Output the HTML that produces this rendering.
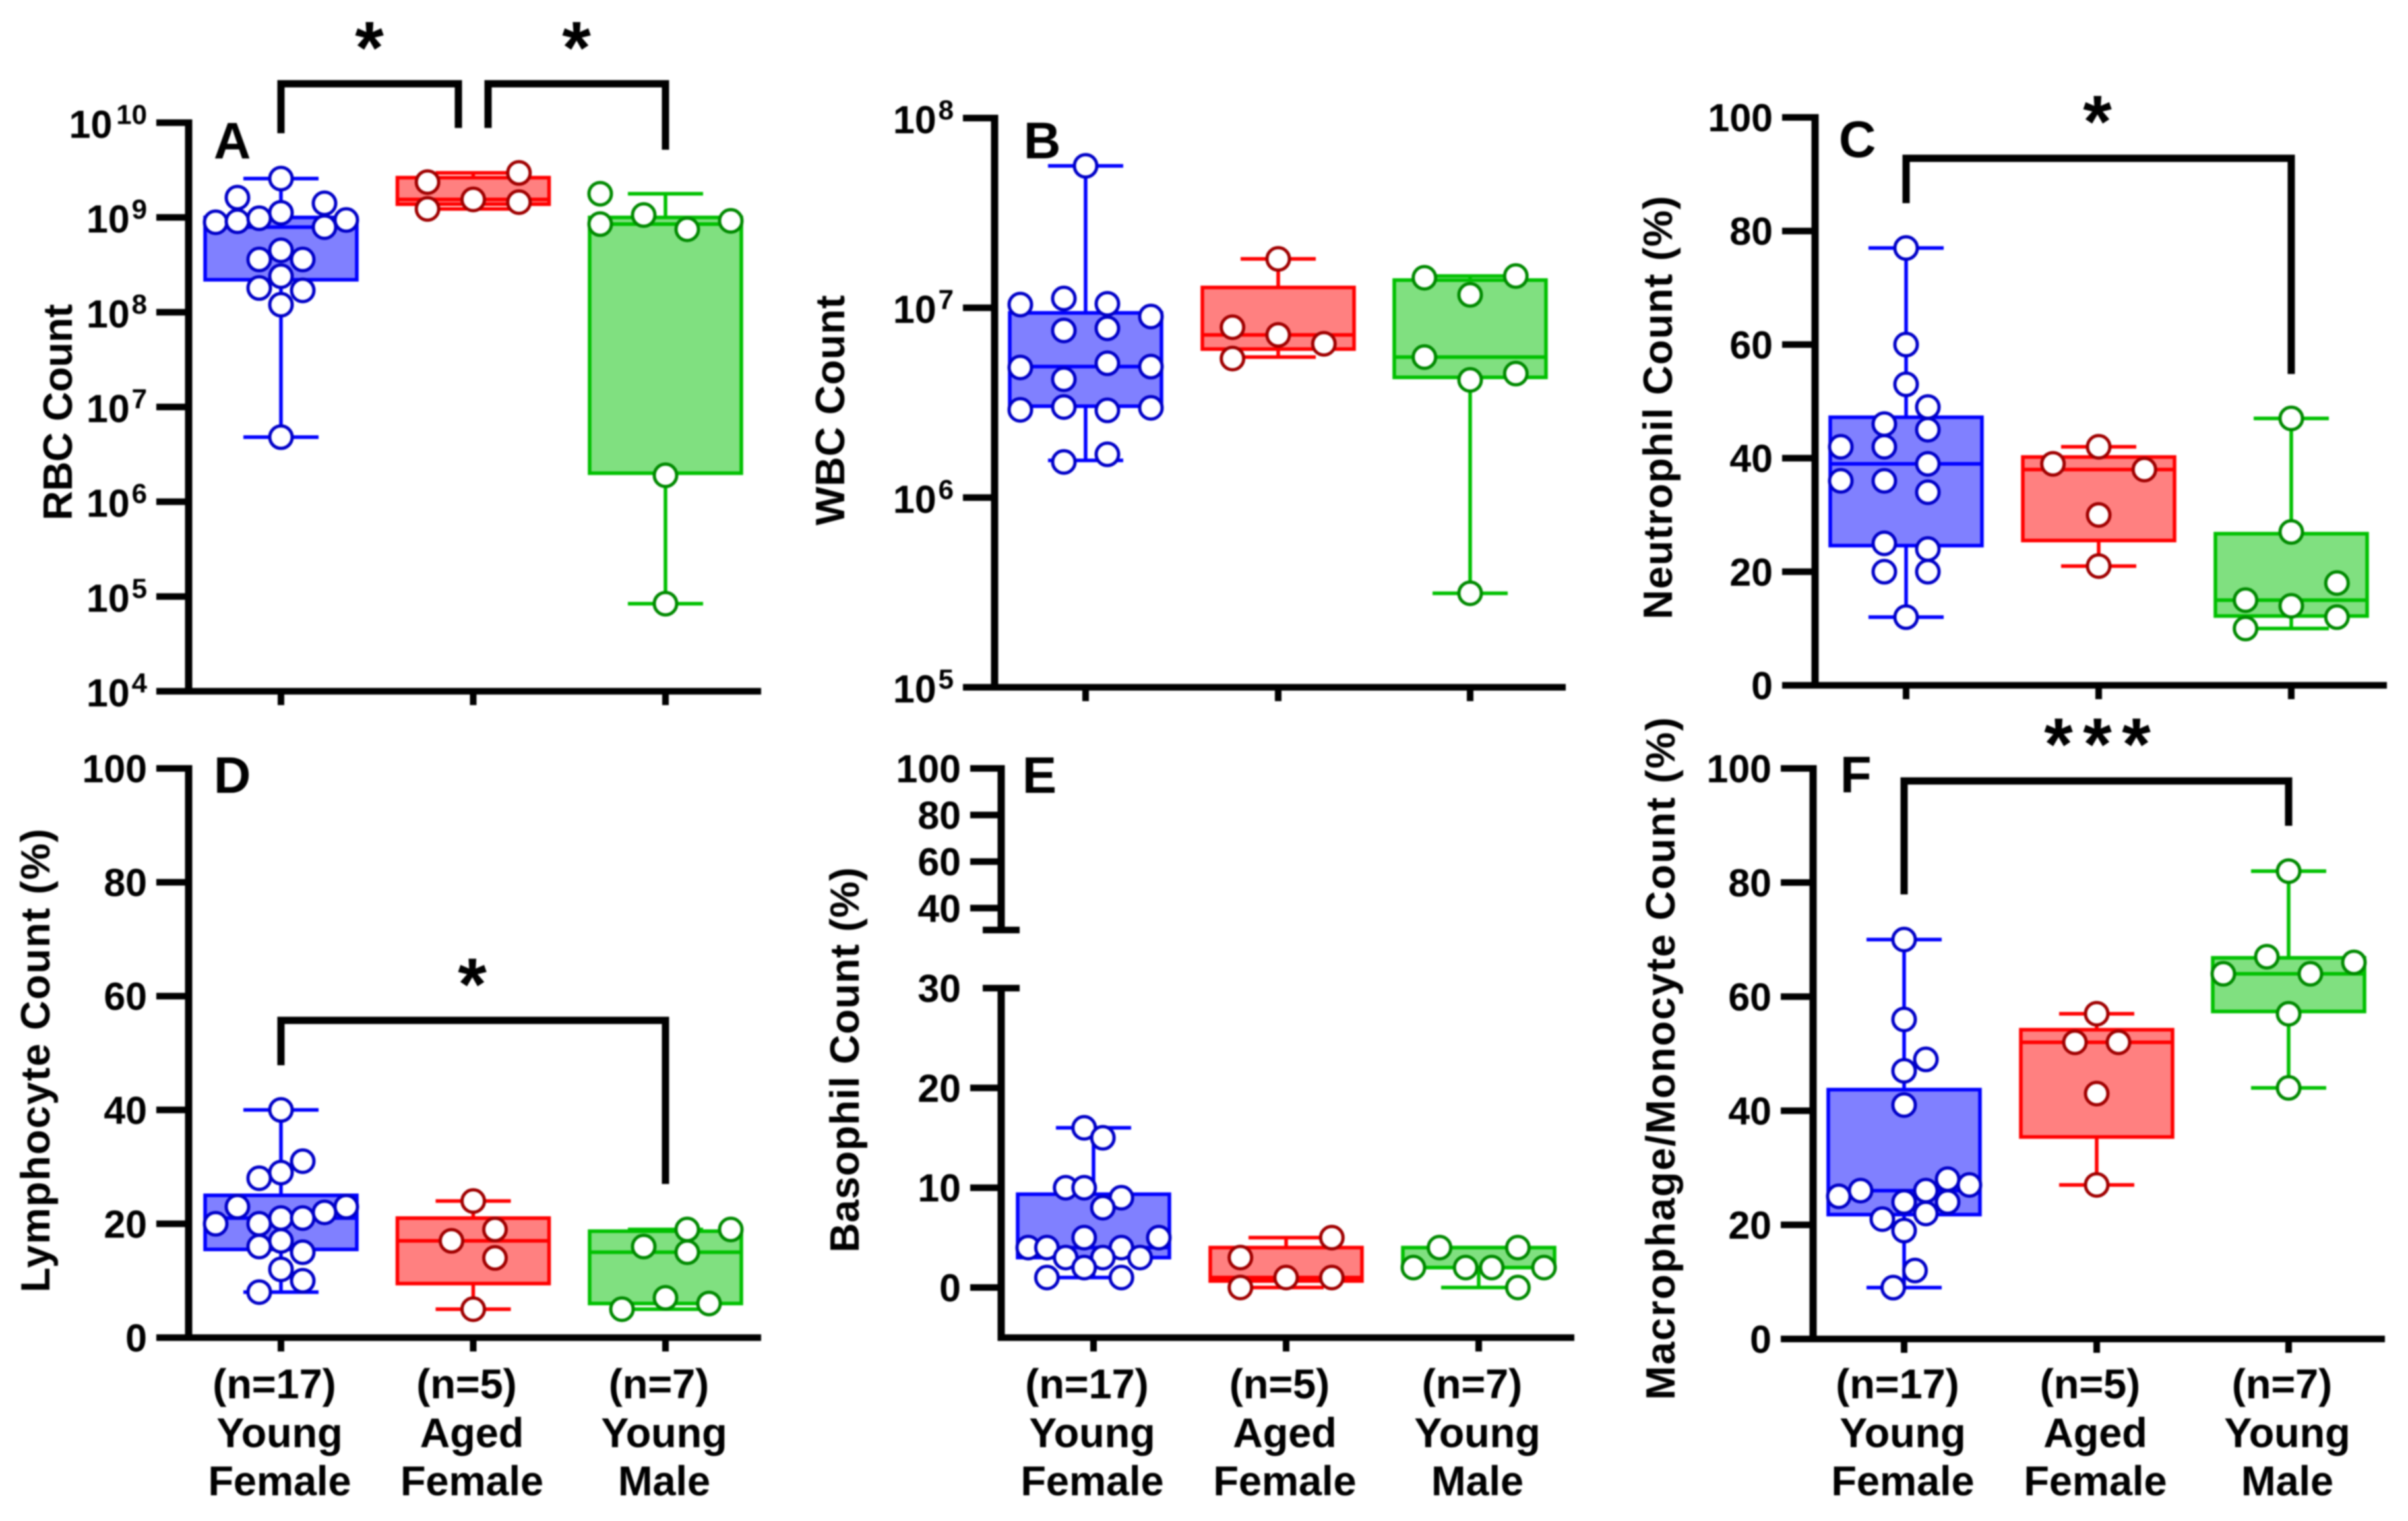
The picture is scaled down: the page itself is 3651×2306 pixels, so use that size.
<!DOCTYPE html>
<html lang="en">
<head>
<meta charset="utf-8">
<title>Blood cell counts by group</title>
<style>
html,body{margin:0;padding:0;background:#fff;}
#figure{display:block;width:3651px;height:2306px;filter:blur(1px);}
text{font-family:"Liberation Sans",Arial,sans-serif;font-weight:bold;fill:#000;}
.axis-title{font-size:62px;}
.panel-letter{font-size:78px;}
.star{font-size:112px;}
.bracket{fill:none;stroke:#000;stroke-width:11;}
</style>
</head>
<body>
<svg id="figure" xmlns="http://www.w3.org/2000/svg" width="3651" height="2306" viewBox="0 0 3651 2306">
  <rect x="0" y="0" width="3651" height="2306" fill="#fff"/>

  <g id="panel-a">
    <text class="axis-title" text-anchor="middle" textLength="328" lengthAdjust="spacing" transform="translate(109,625) rotate(-90)">RBC Count</text>
    <text class="panel-letter" x="324" y="240">A</text>
  </g>
  <g id="panel-b">
    <text class="axis-title" text-anchor="middle" textLength="349" lengthAdjust="spacing" transform="translate(1280,622) rotate(-90)">WBC Count</text>
    <text class="panel-letter" x="1552" y="240">B</text>
  </g>
  <g id="panel-c">
    <text class="axis-title" text-anchor="middle" textLength="642" lengthAdjust="spacing" transform="translate(2535,618) rotate(-90)">Neutrophil Count (%)</text>
    <text class="panel-letter" x="2788" y="238">C</text>
  </g>
  <g id="panel-d">
    <text class="axis-title" text-anchor="middle" textLength="703" lengthAdjust="spacing" transform="translate(75,1608) rotate(-90)">Lymphocyte Count (%)</text>
    <text class="panel-letter" x="324" y="1202">D</text>
  </g>
  <g id="panel-e">
    <text class="axis-title" text-anchor="middle" textLength="584" lengthAdjust="spacing" transform="translate(1302,1607) rotate(-90)">Basophil Count (%)</text>
    <text class="panel-letter" x="1550" y="1202">E</text>
  </g>
  <g id="panel-f">
    <text class="axis-title" text-anchor="middle" textLength="1035" lengthAdjust="spacing" transform="translate(2539,1605) rotate(-90)">Macrophage/Monocyte Count (%)</text>
    <text class="panel-letter" x="2790" y="1201">F</text>
  </g>

  <g>
    <path class="bracket" d="M426 202V127H695V194"/>
    <path class="bracket" d="M740 194V127H1009V227"/>
    <text class="star" text-anchor="middle" x="560" y="111">*</text>
    <text class="star" text-anchor="middle" x="874" y="111">*</text>
    <path class="bracket" d="M2890 308V240H3474V567"/>
    <text class="star" text-anchor="middle" x="3180" y="223">*</text>
    <path class="bracket" d="M426 1615V1547H1009V1795"/>
    <text class="star" text-anchor="middle" x="716" y="1531">*</text>
    <path class="bracket" d="M2887 1356V1184H3470V1252"/>
    <text class="star" text-anchor="middle" x="3121 3180 3239" y="1167">***</text>
  </g>
</svg>

<script>
// ---- shared categories ----
const categories = ['Young Female', 'Aged Female', 'Young Male'];
const sampleSizes = ['(n=17)', '(n=5)', '(n=7)'];

// ---- Panel A: RBC count ----
const rbcTickExponents = [4, 5, 6, 7, 8, 9, 10];
const rbcMin = [4.8e6, 1.23e9, 8.4e4];
const rbcQ1 = [2.2e8, 1.38e9, 2.0e6];
const rbcMedian = [7.9e8, 1.55e9, 8.5e8];
const rbcQ3 = [1.0e9, 2.63e9, 1.0e9];
const rbcMax = [2.57e9, 2.95e9, 1.78e9];
const rbcYoungFemale = [2.57e9, 1.62e9, 1.41e9, 1.12e9, 8.9e8, 9.1e8, 9.8e8, 9.4e8, 7.9e8, 4.5e8, 3.6e8, 3.6e8, 2.4e8, 1.8e8, 1.7e8, 1.2e8, 4.8e6];
const rbcYoungFemaleColumn = [0, -2, 2, 0, -3, -2, -1, 3, 2, 0, -1, 1, 0, -1, 1, 0, 0];
const rbcAgedFemale = [2.95e9, 2.36e9, 1.55e9, 1.45e9, 1.23e9];
const rbcAgedFemaleColumn = [2.1, -2.1, 0, 2.1, -2.1];
const rbcYoungMale = [1.78e9, 1.06e9, 9.2e8, 8.5e8, 7.5e8, 1.9e6, 8.4e4];
const rbcYoungMaleColumn = [-3, -1, 3, -3, 1, 0, 0];

// ---- Panel B: WBC count ----
const wbcTickExponents = [5, 6, 7, 8];
const wbcMin = [1.57e6, 5.5e6, 3.13e5];
const wbcQ1 = [3.03e6, 6.06e6, 4.3e6];
const wbcMedian = [4.9e6, 7.2e6, 5.5e6];
const wbcQ3 = [9.4e6, 1.28e7, 1.4e7];
const wbcMax = [5.6e7, 1.81e7, 1.47e7];
const wbcYoungFemale = [5.6e7, 1.04e7, 1.12e7, 1.05e7, 9.0e6, 7.6e6, 7.8e6, 4.85e6, 5.1e6, 4.9e6, 4.2e6, 2.9e6, 3.0e6, 2.88e6, 2.97e6, 1.54e6, 1.69e6];
const wbcYoungFemaleColumn = [0, -3, -1, 1, 3, -1, 1, -3, 1, 3, -1, -3, -1, 1, 3, -1, 1];
const wbcAgedFemale = [1.81e7, 7.9e6, 7.2e6, 6.46e6, 5.4e6];
const wbcAgedFemaleColumn = [0, -2.1, 0, 2.1, -2.1];
const wbcYoungMale = [1.44e7, 1.47e7, 1.17e7, 5.5e6, 4.5e6, 4.17e6, 3.13e5];
const wbcYoungMaleColumn = [-2.1, 2.1, 0, -2.1, 2.1, 0, 0];

// ---- Panel C: neutrophil % ----
const neutrophilTicks = [0, 20, 40, 60, 80, 100];
const neutrophilMin = [12, 21, 10];
const neutrophilQ1 = [24.6, 25.5, 12.2];
const neutrophilMedian = [39, 38, 15];
const neutrophilQ3 = [47.2, 40.2, 26.7];
const neutrophilMax = [77, 42, 47];
const neutrophilYoungFemale = [77, 60, 53, 49, 46, 45, 42, 42, 39, 36, 36, 34, 25, 24, 20, 20, 12];
const neutrophilYoungFemaleColumn = [0, 0, 0, 1, -1, 1, -3, -1, 1, -3, -1, 1, -1, 1, -1, 1, 0];
const neutrophilAgedFemale = [42, 39, 38, 30, 21];
const neutrophilAgedFemaleColumn = [0, -2.1, 2.1, 0, 0];
const neutrophilYoungMale = [47, 27, 18, 15, 14, 12, 10];
const neutrophilYoungMaleColumn = [0, 0, 2.1, -2.1, 0, 2.1, -2.1];

// ---- Panel D: lymphocyte % ----
const lymphocyteTicks = [0, 20, 40, 60, 80, 100];
const lymphocyteMin = [8, 5, 5];
const lymphocyteQ1 = [15.5, 9.5, 6];
const lymphocyteMedian = [21, 17, 15];
const lymphocyteQ3 = [25, 21, 18.7];
const lymphocyteMax = [40, 24, 19];
const lymphocyteYoungFemale = [40, 31, 29, 28, 23, 23, 22, 21, 21, 20, 20, 17, 16, 15, 12, 10, 8];
const lymphocyteYoungFemaleColumn = [0, 1, 0, -1, -2, 3, 2, 0, 1, -3, -1, 0, -1, 1, 0, 1, -1];
const lymphocyteAgedFemale = [24, 19, 17, 14, 5];
const lymphocyteAgedFemaleColumn = [0, 1, -1, 1, 0];
const lymphocyteYoungMale = [19, 19, 16, 15, 7, 6, 5];
const lymphocyteYoungMaleColumn = [1, 3, -1, 1, 0, 2, -2];

// ---- Panel E: basophil % (broken axis) ----
const basophilTicks = [0, 10, 20, 40, 60, 80, 100];
const basophilBreakTick = [30];
const basophilMin = [1, 0, 0];
const basophilQ1 = [3, 0.65, 2];
const basophilMedian = [4, 1, 2];
const basophilQ3 = [9.35, 4, 4];
const basophilMax = [16, 5, 4];
const basophilYoungFemale = [16, 15, 10, 10, 9, 8, 5, 5, 4, 4, 4, 3, 3, 3, 2, 1, 1];
const basophilYoungFemaleColumn = [-0.43, 0.43, -1.28, -0.43, 1.28, 0.43, 3, -0.43, -3, -2.14, 1.28, -1.28, 0.43, 2.14, -0.43, -2.14, 1.28];
const basophilAgedFemale = [5, 3, 1, 1, 0];
const basophilAgedFemaleColumn = [2.1, -2.1, 0, 2.1, -2.1];
const basophilYoungMale = [4, 4, 2, 2, 2, 2, 0];
const basophilYoungMaleColumn = [-1.8, 1.8, -3, -0.6, 0.6, 3, 1.8];

// ---- Panel F: macrophage/monocyte % ----
const macrophageTicks = [0, 20, 40, 60, 80, 100];
const macrophageMin = [9, 27, 44];
const macrophageQ1 = [21.8, 35.4, 57.4];
const macrophageMedian = [26, 52, 64];
const macrophageQ3 = [43.7, 54.2, 66.8];
const macrophageMax = [70, 57, 82];
const macrophageYoungFemale = [70, 56, 49, 47, 41, 28, 27, 26, 26, 25, 24, 24, 22, 21, 19, 12, 9];
const macrophageYoungFemaleColumn = [0, 0, 1, 0, 0, 2, 3, -2, 1, -3, 0, 2, 1, -1, 0, 0.5, -0.5];
const macrophageAgedFemale = [57, 52, 52, 43, 27];
const macrophageAgedFemaleColumn = [0, -1, 1, 0, 0];
const macrophageYoungMale = [82, 67, 66, 64, 64, 57, 44];
const macrophageYoungMaleColumn = [0, -1, 3, -3, 1, 0, 0];

// ---- styling and layout (not data) ----
const boxFill = ['#8080ff', '#ff8080', '#80e080'];
const boxStroke = ['#0000ff', '#ff0000', '#00c000'];
const dotStroke = ['#0000c8', '#a00000', '#008a00'];
const NS = 'http://www.w3.org/2000/svg';
const COLUMN_PX = 33, BOX_HALF = 115, CAP_HALF = 57, DOT_R = 17;

function svgEl(tag, attrs, parent) {
  const el = document.createElementNS(NS, tag);
  for (const k in attrs) el.setAttribute(k, attrs[k]);
  parent.appendChild(el);
  return el;
}

// ---- axis functions ----
function logAxis(bottom, top, minExp, maxExp) {
  return v => bottom - (Math.log10(v) - minExp) / (maxExp - minExp) * (bottom - top);
}
function linearAxis(bottom, top, minV, maxV) {
  return v => bottom - (v - minV) / (maxV - minV) * (bottom - top);
}
function brokenAxis(zeroY, lowerPxPerUnit, topY, upperPxPerUnit, breakValue) {
  return v => v <= breakValue ? zeroY - v * lowerPxPerUnit : topY + (100 - v) * upperPxPerUnit;
}

function hLine(parent, x1, x2, y, stroke, width) {
  return svgEl('line', {x1: x1, x2: x2, y1: y, y2: y, stroke: stroke, 'stroke-width': width}, parent);
}
function vLine(parent, x, y1, y2, stroke, width) {
  return svgEl('line', {x1: x, x2: x, y1: y1, y2: y2, stroke: stroke, 'stroke-width': width}, parent);
}

function drawBoxes(g, xs, y, stats, series) {
  categories.forEach((cat, i) => {
    const cx = xs[i];
    const group = svgEl('g', {}, g);
    
    

    const upper = vLine(group, cx, y(stats.q3[i]), y(stats.max[i]), boxStroke[i], 5.5);
    
    
    const lower = vLine(group, cx, y(stats.q1[i]), y(stats.min[i]), boxStroke[i], 5.5);
    
    
    const capTop = hLine(group, cx - CAP_HALF, cx + CAP_HALF, y(stats.max[i]), boxStroke[i], 5.5);
    
    
    const capBottom = hLine(group, cx - CAP_HALF, cx + CAP_HALF, y(stats.min[i]), boxStroke[i], 5.5);
    
    

    const box = svgEl('rect', {
      x: cx - BOX_HALF, width: BOX_HALF * 2,
      y: y(stats.q3[i]), height: y(stats.q1[i]) - y(stats.q3[i]),
      fill: boxFill[i], stroke: boxStroke[i], 'stroke-width': 5.5
    }, group);
    
    

    const med = hLine(group, cx - BOX_HALF, cx + BOX_HALF, y(stats.median[i]), boxStroke[i], 5.5);
    
    

    series[i].values.forEach((v, k) => {
      const dot = svgEl('circle', {
        cx: cx + series[i].columns[k] * COLUMN_PX, cy: y(v), r: DOT_R,
        fill: '#fff', stroke: dotStroke[i], 'stroke-width': 5
      }, group);
      
      
    });
  });
}

function drawXAxis(g, L, withLabels) {
  const axis = hLine(g, L.xStart, L.right, L.bottom, '#000', 10);
  
  
  L.xs.forEach((x, i) => {
    const tick = vLine(g, x, L.bottom, L.bottom + 21, '#000', 10);
    
    
    if (!withLabels) return;
    const n = svgEl('text', {x: x - 10, y: 2120, 'text-anchor': 'middle', 'font-size': 63}, g);
    n.textContent = sampleSizes[i];
    
    
    const words = categories[i].split(' ');
    const first = svgEl('text', {x: x - 2, y: 2194, 'text-anchor': 'middle', 'font-size': 63}, g);
    first.textContent = words[0];
    
    
    const second = svgEl('text', {x: x - 2, y: 2267, 'text-anchor': 'middle', 'font-size': 63}, g);
    second.textContent = words[1];
    
    
  });
}

function drawSpine(g, x, y1, y2) {
  const spine = vLine(g, x, y1, y2, '#000', 11);
  
  
}

function drawLinearTicks(g, L, y, ticks) {
  ticks.forEach(t => {
    const tick = hLine(g, L.tickLeft, L.axisX, y(t), '#000', 10);
    
    
    const label = svgEl('text', {x: L.tickLeft - 14, y: y(t) + 21, 'text-anchor': 'end', 'font-size': 59}, g);
    label.textContent = String(t);
    
    
  });
}

function drawLogTicks(g, L, y, exponents) {
  exponents.forEach(e => {
    const yy = y(Math.pow(10, e));
    const tick = hLine(g, L.tickLeft, L.axisX, yy, '#000', 10);
    
    
    const label = svgEl('text', {x: L.tickLeft - 14, y: yy + 23, 'text-anchor': 'end', 'font-size': 59}, g);
    
    
    const base = svgEl('tspan', {}, label);
    base.textContent = '10';
    
    
    const sup = svgEl('tspan', {dx: e >= 10 ? 6 : 3, dy: -21, 'font-size': 42}, label);
    sup.textContent = String(e);
    
    
  });
}

function seriesOf(a, ac, b, bc, c, cc) {
  return [{values: a, columns: ac}, {values: b, columns: bc}, {values: c, columns: cc}];
}

// ---- Panel A ----
(function () {
  const L = {axisX: 286, tickLeft: 237, top: 186, bottom: 1048, right: 1154, xStart: 281, xs: [426, 717.5, 1009]};
  const g = document.getElementById('panel-a');
  const y = logAxis(L.bottom, L.top, 4, 10);
  drawSpine(g, L.axisX, L.top - 5, L.bottom + 5);
  drawLogTicks(g, L, y, rbcTickExponents);
  drawXAxis(g, L, false);
  drawBoxes(g, L.xs, y, {min: rbcMin, q1: rbcQ1, median: rbcMedian, q3: rbcQ3, max: rbcMax},
    seriesOf(rbcYoungFemale, rbcYoungFemaleColumn, rbcAgedFemale, rbcAgedFemaleColumn, rbcYoungMale, rbcYoungMaleColumn));
})();

// ---- Panel B ----
(function () {
  const L = {axisX: 1508, tickLeft: 1460, top: 179, bottom: 1042, right: 2374, xStart: 1503, xs: [1646, 1938, 2229]};
  const g = document.getElementById('panel-b');
  const y = logAxis(L.bottom, L.top, 5, 8);
  drawSpine(g, L.axisX, L.top - 5, L.bottom + 5);
  drawLogTicks(g, L, y, wbcTickExponents);
  drawXAxis(g, L, false);
  drawBoxes(g, L.xs, y, {min: wbcMin, q1: wbcQ1, median: wbcMedian, q3: wbcQ3, max: wbcMax},
    seriesOf(wbcYoungFemale, wbcYoungFemaleColumn, wbcAgedFemale, wbcAgedFemaleColumn, wbcYoungMale, wbcYoungMaleColumn));
})();

// ---- Panel C ----
(function () {
  const L = {axisX: 2752, tickLeft: 2702, top: 178, bottom: 1039, right: 3619, xStart: 2747, xs: [2890, 3182, 3474]};
  const g = document.getElementById('panel-c');
  const y = linearAxis(L.bottom, L.top, 0, 100);
  drawSpine(g, L.axisX, L.top - 5, L.bottom + 5);
  drawLinearTicks(g, L, y, neutrophilTicks);
  drawXAxis(g, L, false);
  drawBoxes(g, L.xs, y, {min: neutrophilMin, q1: neutrophilQ1, median: neutrophilMedian, q3: neutrophilQ3, max: neutrophilMax},
    seriesOf(neutrophilYoungFemale, neutrophilYoungFemaleColumn, neutrophilAgedFemale, neutrophilAgedFemaleColumn, neutrophilYoungMale, neutrophilYoungMaleColumn));
})();

// ---- Panel D ----
(function () {
  const L = {axisX: 286, tickLeft: 237, top: 1165, bottom: 2028, right: 1154, xStart: 281, xs: [426, 717.5, 1009]};
  const g = document.getElementById('panel-d');
  const y = linearAxis(L.bottom, L.top, 0, 100);
  drawSpine(g, L.axisX, L.top - 5, L.bottom + 5);
  drawLinearTicks(g, L, y, lymphocyteTicks);
  drawXAxis(g, L, true);
  drawBoxes(g, L.xs, y, {min: lymphocyteMin, q1: lymphocyteQ1, median: lymphocyteMedian, q3: lymphocyteQ3, max: lymphocyteMax},
    seriesOf(lymphocyteYoungFemale, lymphocyteYoungFemaleColumn, lymphocyteAgedFemale, lymphocyteAgedFemaleColumn, lymphocyteYoungMale, lymphocyteYoungMaleColumn));
})();

// ---- Panel E (broken axis) ----
(function () {
  const L = {axisX: 1518, tickLeft: 1471, top: 1165, bottom: 2028, right: 2387, xStart: 1513, xs: [1658, 1950, 2242]};
  const g = document.getElementById('panel-e');
  const y = brokenAxis(1952, 15.13, 1165, 3.53, 30);
  drawSpine(g, L.axisX, L.top - 5, 1410);
  drawSpine(g, L.axisX, y(basophilBreakTick[0]), L.bottom + 5);
  const breakTop = hLine(g, L.axisX - 28, L.axisX + 28, 1410, '#000', 10);
  
  
  basophilBreakTick.forEach(t => {
    const tick = hLine(g, L.axisX - 28, L.axisX + 28, y(t), '#000', 10);
    
    
    const label = svgEl('text', {x: L.tickLeft - 14, y: y(t) + 21, 'text-anchor': 'end', 'font-size': 59}, g);
    label.textContent = String(t);
    
    
  });
  drawLinearTicks(g, L, y, basophilTicks);
  drawXAxis(g, L, true);
  drawBoxes(g, L.xs, y, {min: basophilMin, q1: basophilQ1, median: basophilMedian, q3: basophilQ3, max: basophilMax},
    seriesOf(basophilYoungFemale, basophilYoungFemaleColumn, basophilAgedFemale, basophilAgedFemaleColumn, basophilYoungMale, basophilYoungMaleColumn));
})();

// ---- Panel F ----
(function () {
  const L = {axisX: 2749, tickLeft: 2700, top: 1165, bottom: 2030, right: 3616, xStart: 2744, xs: [2887, 3179, 3470]};
  const g = document.getElementById('panel-f');
  const y = linearAxis(L.bottom, L.top, 0, 100);
  drawSpine(g, L.axisX, L.top - 5, L.bottom + 5);
  drawLinearTicks(g, L, y, macrophageTicks);
  drawXAxis(g, L, true);
  drawBoxes(g, L.xs, y, {min: macrophageMin, q1: macrophageQ1, median: macrophageMedian, q3: macrophageQ3, max: macrophageMax},
    seriesOf(macrophageYoungFemale, macrophageYoungFemaleColumn, macrophageAgedFemale, macrophageAgedFemaleColumn, macrophageYoungMale, macrophageYoungMaleColumn));
})();
</script>
</body>
</html>
